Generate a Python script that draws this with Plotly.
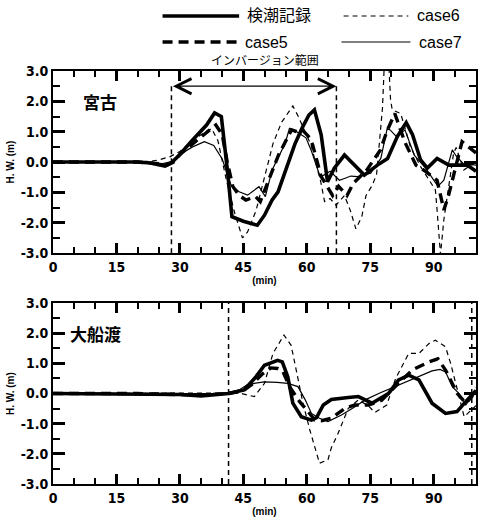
import plotly.graph_objects as go

# ---------------- data: Miyako (宮古) ----------------
obs_m_t = [0, 10, 20, 23, 25, 26.5, 28, 30, 33, 36.3, 38.2, 39.8, 41.3, 42.3, 45, 48.3, 50, 51.8, 53.2, 55, 57.2, 59, 60.5, 61.8, 63.4, 64.9, 66.5, 68.9, 71, 73.6, 76.7, 79.1, 81.4, 83.5, 85, 86.9, 88.5, 90.8, 93.6, 97.9, 100]
obs_m_v = [0, 0, 0, -0.03, -0.1, -0.13, -0.02, 0.25, 0.73, 1.22, 1.62, 1.5, -0.36, -1.8, -1.95, -2.08, -1.75, -1.25, -0.98, -0.3, 0.6, 1.15, 1.55, 1.72, 0.9, -0.65, -0.2, 0.23, -0.05, -0.43, -0.1, 0.12, 0.84, 1.3, 0.9, 0.07, -0.2, 0.12, -0.1, -0.1, -0.3]

c5_m_t = [0, 20, 25, 27, 28.5, 30, 33, 36, 38.5, 40, 41.2, 42.5, 44, 45.6, 47.9, 49, 50.9, 53.3, 56.4, 57.6, 59, 60.7, 61.4, 63.4, 66.1, 67.5, 69.5, 71, 74.2, 77.4, 78.9, 80.8, 83.2, 85.8, 88, 90.8, 92.4, 93.5, 96.7, 100]
c5_m_v = [0, 0, -0.05, -0.1, 0, 0.25, 0.6, 0.95, 1.22, 0.9, 0, -0.8, -1.1, -1.25, -1.14, -1.3, -0.6, 0.23, 1.06, 1.0, 1.05, 0.8, 0.56, -0.48, -1.1, -0.8, -1.1, -0.7, -0.26, 0.4, 1.0, 1.6, 0.65, -0.1, -0.3, -0.6, -1.58, -1.1, 0.67, 0.3]

c6_m_t = [0, 20, 23, 25, 27.7, 30, 33, 36, 37.5, 39, 41, 43, 44.8, 46, 48, 50, 52, 54, 56.7, 58, 61, 63.3, 64.2, 65.5, 66.9, 68.9, 70.3, 71.6, 73, 74, 75.5, 76.5, 77.9, 78.4, 79.3, 79.8, 80.2, 82.2, 84.5, 86.9, 90.4, 90.8, 91.6, 92.4, 93.6, 94.7, 95.3, 97.1, 100]
c6_m_v = [0, 0, 0.02, 0.07, 0.18, 0.35, 0.7, 1.0, 1.1, 0.7, -0.6, -1.7, -2.5, -2.3, -1.6, -0.5, 0.6, 1.3, 1.85, 1.5, 0.56, -0.65, -1.3, -1.2, -1.42, -1.1, -1.6, -2.2, -1.8, -1.1, -0.76, -0.4, 1.8, 3.5, 3.5, 2.05, 1.72, 1.6, 0.5, -0.15, -0.92, -1.58, -3.05, -1.9, -0.81, 0.29, 0.48, -0.26, 0.0]

c7_m_t = [0, 20, 26, 28, 30, 33, 35.8, 38, 40, 42.1, 44, 46, 48.7, 50.2, 51.8, 54.9, 55.9, 57.6, 58.7, 59.8, 61, 63.2, 65.5, 67.7, 68.9, 70.4, 72, 75.1, 77.5, 79, 79.7, 81.2, 83.2, 85.4, 88.1, 91, 92.4, 94.4, 95.3, 97, 100]
c7_m_v = [0, 0, -0.05, 0.02, 0.25, 0.5, 0.67, 0.55, 0.1, -0.76, -0.98, -1.09, -0.81, -1.14, -0.26, 0.62, 1.11, 1.0, 0.9, 0.8, 0.4, -0.5, -0.3, -0.6, -0.54, -0.46, -0.48, -0.37, 0.12, 1.1, 1.06, 0.84, 1.06, 0.23, -0.2, -0.8, -0.6, 0.4, 0.2, -0.05, -0.1]

# ---------------- data: Ofunato (大船渡) ----------------
obs_o_t = [0, 20, 30, 35, 38, 41.5, 45.2, 48, 50, 53.1, 54.2, 55.5, 56.7, 58.7, 61.1, 62.3, 63.9, 65.8, 69.8, 72.2, 75.4, 79.3, 81.7, 84.1, 86.5, 89.6, 92.8, 95.5, 98, 100]
obs_o_v = [0, 0, -0.03, -0.08, -0.05, 0, 0.12, 0.56, 0.94, 1.1, 1.05, 0.56, -0.32, -0.77, -0.88, -0.8, -0.38, -0.2, -0.13, -0.1, -0.32, 0.0, 0.45, 0.61, 0.45, -0.32, -0.66, -0.6, -0.2, 0.1]

c5_o_t = [0, 20, 35, 41.5, 45, 47, 49.6, 51.5, 53.1, 54.3, 55.9, 58.3, 60.3, 61.9, 63.5, 65.8, 69, 71.4, 74.6, 77.7, 80.9, 84.9, 88.9, 91, 92.8, 95.6, 97.6, 99, 100]
c5_o_v = [0, 0, -0.05, 0, 0.1, 0.3, 0.66, 0.85, 0.83, 0.75, 0.23, -0.27, -0.6, -0.88, -0.9, -0.82, -0.49, -0.38, -0.38, -0.22, 0.23, 0.78, 1.05, 1.15, 0.78, 0, -0.32, -0.1, 0.2]

c6_o_t = [0, 20, 40, 44, 46, 47.6, 50, 52, 54.6, 56.3, 59.1, 60.7, 63, 65, 65.8, 67.4, 69.8, 72.2, 74.5, 76.1, 78.9, 81, 84.1, 86.5, 88.9, 90.4, 92.8, 94, 96, 97.2, 100]
c6_o_v = [0, 0, 0, 0.02, -0.05, -0.1, 0.34, 1.33, 1.94, 1.6, -0.32, -1.2, -2.31, -2.2, -1.8, -1.32, -0.49, -0.21, -0.4, -0.63, -0.38, 0.5, 1.33, 1.33, 1.66, 1.77, 1.55, 1.0, -0.1, -0.77, -0.4]

c7_o_t = [0, 20, 38, 41.5, 44, 46, 49.9, 53, 55.5, 57.9, 59.6, 61.1, 63, 65, 68.2, 71.4, 73.8, 77, 80.9, 84.9, 87, 89.6, 91.5, 92.8, 94.4, 96, 97.6, 100]
c7_o_v = [0, 0, 0, 0.03, 0.12, 0.3, 0.39, 0.37, 0.34, 0.23, -0.2, -0.66, -0.82, -0.93, -0.71, -0.44, -0.21, 0, 0.23, 0.45, 0.6, 0.75, 0.8, 0.72, 0.23, 0.0, -0.38, 0.1]

# ---------------- labels ----------------
series_names = ["検潮記録", "case5", "case6", "case7"]
x_ticks = [0, 15, 30, 45, 60, 75, 90]
y_ticks = [-3, -2, -1, 0, 1, 2, 3]
y_ticktext = ["-3.0", "-2.0", "-1.0", "0.0", "1.0", "2.0", "3.0"]
station_names = ["宮古", "大船渡"]
inversion_label = "インバージョン範囲"
inversion_m = [28, 67]
inversion_o = [41.5, 99]

styles = {
    "検潮記録": dict(color="black", width=3.6, dash="solid"),
    "case5": dict(color="black", width=3.4, dash="10px,6px"),
    "case6": dict(color="black", width=1.2, dash="5px,4px"),
    "case7": dict(color="black", width=1.2, dash="solid"),
}

fig = go.Figure()
panels = [
    ("x", "y", [(obs_m_t, obs_m_v), (c5_m_t, c5_m_v), (c6_m_t, c6_m_v), (c7_m_t, c7_m_v)]),
    ("x2", "y2", [(obs_o_t, obs_o_v), (c5_o_t, c5_o_v), (c6_o_t, c6_o_v), (c7_o_t, c7_o_v)]),
]
for xa, ya, data in panels:
    for name, (t, v) in zip(series_names, data):
        fig.add_trace(go.Scatter(x=t, y=v, mode="lines", name=name, line=styles[name],
                                 xaxis=xa, yaxis=ya, showlegend=False))

# empty traces that carry the tick-only overlay axes
for xa, ya in [("x3", "y"), ("x", "y3"), ("x4", "y2"), ("x2", "y4")]:
    fig.add_trace(go.Scatter(x=[None], y=[None], mode="lines", xaxis=xa, yaxis=ya,
                             showlegend=False, hoverinfo="skip"))

tickfont = dict(family="Liberation Sans Narrow, Arial Narrow, DejaVu Sans Condensed", size=14, color="black", weight="bold")
axfont = dict(family="Liberation Sans, Arial", size=10, color="black", weight="bold")

def xaxis(anchor):
    return dict(anchor=anchor, range=[0, 100], tickvals=x_ticks,
                ticks="inside", ticklen=10, tickwidth=2.5, tickcolor="#000000",
                showline=True, linewidth=2, linecolor="black", mirror="ticks", showgrid=False,
                tickfont=tickfont,
                minor=dict(ticks="inside", dtick=5, ticklen=6, tickwidth=2, tickcolor="#000000"),
                title=dict(text="(min)", font=axfont, standoff=3))

def yaxis(anchor, domain):
    return dict(anchor=anchor, domain=domain, range=[-3, 3], tickvals=y_ticks, ticktext=y_ticktext,
                ticks="inside", ticklen=12, tickwidth=2.5, tickcolor="#000000",
                showline=True, linewidth=2, linecolor="black",
                mirror="ticks", showgrid=False, zeroline=False, tickfont=tickfont,
                minor=dict(ticks="inside", dtick=0.5, ticklen=7, tickwidth=2, tickcolor="#000000"),
                title=dict(text="H. W. (m)", font=axfont, standoff=4))

# tick-only overlay axes (no labels, no titles)
def xticks_overlay(over, anchor):
    return dict(overlaying=over, anchor=anchor, side="bottom", range=[0, 100], tickvals=x_ticks,
                showticklabels=False, ticks="inside", ticklen=10, tickwidth=2.5, tickcolor="black",
                showline=True, linewidth=2, linecolor="black", mirror="allticks", showgrid=False,
                minor=dict(ticks="inside", dtick=5, ticklen=6, tickwidth=2, tickcolor="black"))

def yticks_overlay(over, anchor):
    return dict(overlaying=over, anchor=anchor, side="left", range=[-3, 3], tickvals=y_ticks,
                showticklabels=False, ticks="inside", ticklen=12, tickwidth=2.5, tickcolor="black",
                showline=True, linewidth=2, linecolor="black", mirror="allticks", showgrid=False,
                zeroline=False,
                minor=dict(ticks="inside", dtick=0.5, ticklen=7, tickwidth=2, tickcolor="black"))

fig.update_layout(
    width=478, height=525,
    margin=dict(l=53, r=0, t=71, b=41),
    paper_bgcolor="white", plot_bgcolor="white",
    xaxis=xaxis("y"), yaxis=yaxis("x", [0.559, 1.0]),
    xaxis2=xaxis("y2"), yaxis2=yaxis("x2", [0.0, 0.438]),
    xaxis3=xticks_overlay("x", "y"), yaxis3=yticks_overlay("y", "x"),
    xaxis4=xticks_overlay("x2", "y2"), yaxis4=yticks_overlay("y2", "x2"),
    font=dict(family="Liberation Sans, Arial", color="black"),
)

# inversion range markers
shapes = []
for xv in inversion_m:
    shapes.append(dict(type="line", xref="x", yref="y", x0=xv, x1=xv, y0=-3, y1=2.6,
                       line=dict(color="black", width=1.5, dash="5px,4px")))
for xv in inversion_o:
    shapes.append(dict(type="line", xref="x2", yref="y2", x0=xv, x1=xv, y0=-3, y1=3,
                       line=dict(color="black", width=1.5, dash="5px,4px")))

# manual legend (two columns)
leg_rows = [(1.1332, 0.259, 0.44, "検潮記録", 0.687, 0.84, "case6"),
            (1.0702, 0.259, 0.435, "case5", 0.682, 0.845, "case7")]
annotations = []
legfont = dict(family="Liberation Sans, Noto Sans CJK JP", size=16, color="black")
for y, a0, a1, n1, b0, b1, n2 in leg_rows:
    for (x0, x1, n) in [(a0, a1, n1), (b0, b1, n2)]:
        st = styles[n]
        shapes.append(dict(type="line", xref="paper", yref="paper", x0=x0, x1=x1, y0=y, y1=y,
                           line=dict(color="black", width=st["width"], dash=st["dash"])))
        annotations.append(dict(xref="paper", yref="paper", x=x1 + 0.015, y=y, text=n, showarrow=False,
                                xanchor="left", yanchor="middle", font=legfont))

annotations.append(dict(xref="x", yref="y", x=inversion_m[1], y=2.5, ax=inversion_m[0], ay=2.5,
                        axref="x", ayref="y", showarrow=True, arrowside="end+start", arrowhead=5,
                        arrowsize=2.5, arrowwidth=1.2, arrowcolor="black", text=""))
annotations.append(dict(xref="x", yref="paper", x=50, y=1.027, text=inversion_label, showarrow=False,
                        yanchor="middle", font=dict(family="Noto Sans CJK JP", size=12, color="black")))
annotations.append(dict(xref="x", yref="y", x=6.5, y=2.0, text=station_names[0], showarrow=False,
                        xanchor="left", yanchor="middle",
                        font=dict(family="Noto Sans CJK JP", size=17, color="black", weight="bold")))
annotations.append(dict(xref="x2", yref="y2", x=3.5, y=2.0, text=station_names[1], showarrow=False,
                        xanchor="left", yanchor="middle",
                        font=dict(family="Noto Sans CJK JP", size=17, color="black", weight="bold")))

fig.update_layout(shapes=shapes, annotations=annotations)
# remove the default page margin so the figure sits at the window's top-left corner
fig.write_html("out.html", config={"displayModeBar": False},
               post_script="document.body.style.margin='0px';")
